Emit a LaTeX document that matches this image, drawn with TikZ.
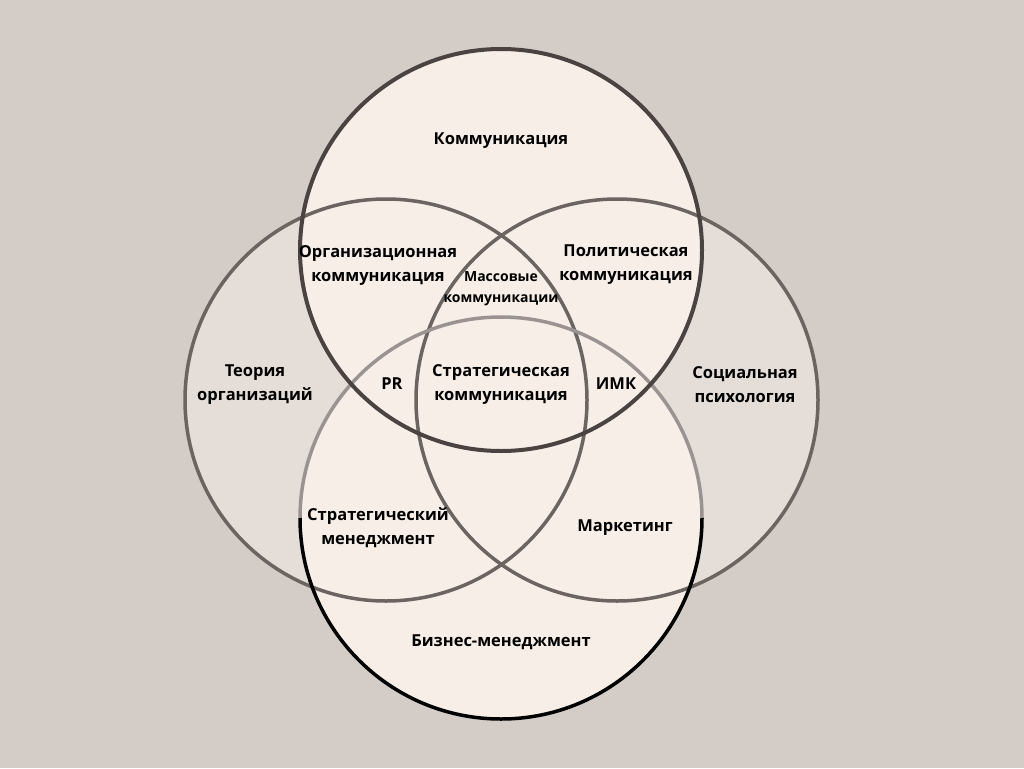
\documentclass[tikz,border=0pt]{standalone}
\usepackage{fontspec}
\setmainfont{Open Sans}
\definecolor{bg}{HTML}{D4CCC6}
\definecolor{cream}{HTML}{F6EEE7}
\definecolor{grayf}{HTML}{E5DDD7}
\definecolor{ringA}{HTML}{4A4341}
\definecolor{ringB}{HTML}{6B6461}
\definecolor{ringC}{HTML}{9A9391}
\begin{document}
\begin{tikzpicture}[x=1pt,y=-1pt,
  lbl/.style={font=\bfseries\fontsize{16.5}{24}\selectfont,align=center,text=black},
  sml/.style={font=\bfseries\fontsize{14}{21}\selectfont,align=center,text=black}]
\useasboundingbox (0,0) rectangle (1024,768);
\fill[bg] (0,0) rectangle (1024,768);
\coordinate (T) at (501,250);
\coordinate (B) at (501,518);
\coordinate (L) at (386,400);
\coordinate (R) at (617,400);
\fill[grayf] (L) circle[radius=201];
\fill[grayf] (R) circle[radius=201];
\fill[cream] (T) circle[radius=201];
\fill[cream] (B) circle[radius=201];
\draw[ringB,line width=3.5] (L) circle[radius=201];
\draw[ringB,line width=3.5] (R) circle[radius=201];
\draw[ringC,line width=3.5] (B) ++(201,0) arc[start angle=0,end angle=-180,radius=201];
\draw[black,line width=3.5] (B) ++(201,0) arc[start angle=0,end angle=180,radius=201];
\draw[ringA,line width=4] (T) circle[radius=201];
\node[lbl] (n1) at (501,141) {Коммуникация};
\node[lbl] (n2) at (378,265) {Организационная\\коммуникация};
\node[lbl] (n3) at (626,265) {Политическая\\коммуникация};
\node[sml] (n4) at (501,289) {Массовые\\коммуникации};
\node[lbl] (n5) at (255,385) {Теория\\организаций};
\node[lbl] (n6) at (392,384) {PR};
\node[lbl] (n7) at (501,385) {Стратегическая\\коммуникация};
\node[lbl] (n8) at (616,384) {ИМК};
\node[lbl] (n9) at (745,385) {Социальная\\психология};
\node[lbl] (n10) at (378,528) {Стратегический\\менеджмент};
\node[lbl] (n11) at (625,528) {Маркетинг};
\node[lbl] (n12) at (501,642) {Бизнес-менеджмент};
\end{tikzpicture}
\end{document}
